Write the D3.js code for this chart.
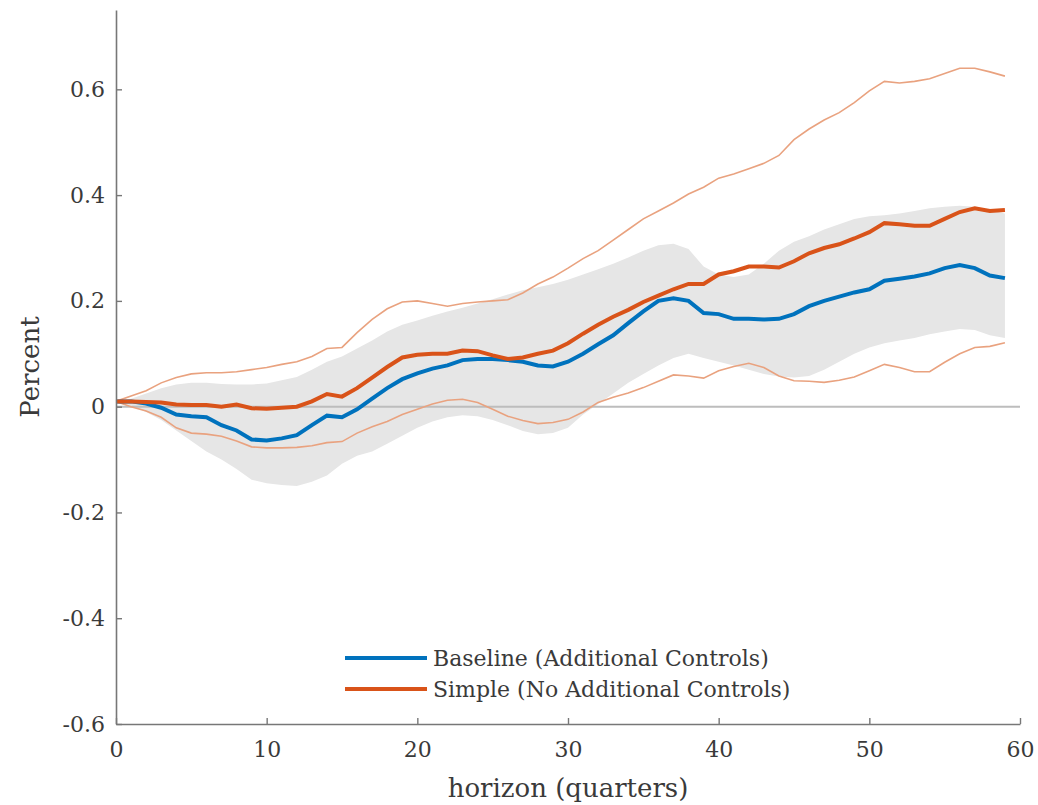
<!DOCTYPE html>
<html>
<head>
<meta charset="utf-8">
<script src="https://cdn.jsdelivr.net/npm/d3@7"></script>
<style>
  body { margin: 0; background: white; }
  svg { display: block; }
  text { font-family: "DejaVu Serif", serif; fill: #3a3a3a; }
</style>
</head>
<body>
<svg id="chart" width="1038" height="805"></svg>
<script>
// horizons 0..59 (quarters)
const horizon = d3.range(0, 60)

// baseline (additional controls) point estimate and its band
const baseline = [0.01, 0.01, 0.006, -0.002, -0.015, -0.018, -0.02, -0.035, -0.045, -0.062,
  -0.064, -0.06, -0.054, -0.035, -0.017, -0.02, -0.005, 0.015, 0.035, 0.052,
  0.063, 0.072, 0.078, 0.088, 0.09, 0.09, 0.088, 0.085, 0.078, 0.076,
  0.085, 0.1, 0.118, 0.135, 0.158, 0.18, 0.2, 0.205, 0.2, 0.177,
  0.175, 0.166, 0.166, 0.165, 0.166, 0.175, 0.19, 0.2, 0.208, 0.216,
  0.222, 0.238, 0.242, 0.246, 0.252, 0.262, 0.268, 0.262, 0.248, 0.243]
const baselineHi = [0.01, 0.015, 0.025, 0.035, 0.042, 0.045, 0.045, 0.043, 0.042, 0.042,
  0.044, 0.05, 0.056, 0.07, 0.085, 0.095, 0.11, 0.125, 0.142, 0.155,
  0.163, 0.172, 0.18, 0.187, 0.195, 0.203, 0.212, 0.22, 0.226, 0.232,
  0.24, 0.25, 0.26, 0.27, 0.282, 0.295, 0.305, 0.308, 0.298, 0.265,
  0.25, 0.245, 0.25, 0.27, 0.295, 0.312, 0.322, 0.335, 0.345, 0.355,
  0.36, 0.362, 0.365, 0.37, 0.375, 0.378, 0.38, 0.378, 0.372, 0.365]
const baselineLo = [0.01, 0.002, -0.01, -0.025, -0.045, -0.065, -0.085, -0.1, -0.118, -0.138,
  -0.145, -0.148, -0.15, -0.142, -0.13, -0.108, -0.093, -0.085, -0.07, -0.055,
  -0.04, -0.028, -0.02, -0.016, -0.018, -0.025, -0.035, -0.046, -0.052, -0.05,
  -0.04, -0.015, 0.005, 0.025, 0.045, 0.062, 0.078, 0.092, 0.1, 0.092,
  0.085, 0.078, 0.07, 0.062, 0.057, 0.055, 0.058, 0.07, 0.085, 0.1,
  0.112, 0.12, 0.125, 0.13, 0.137, 0.142, 0.147, 0.145, 0.135, 0.13]

// simple (no additional controls) point estimate and its bounds
const simple = [0.01, 0.01, 0.009, 0.008, 0.004, 0.003, 0.003, 0.0, 0.004, -0.003,
  -0.004, -0.002, 0.0, 0.01, 0.024, 0.019, 0.035, 0.055, 0.075, 0.093,
  0.098, 0.1, 0.1, 0.106, 0.105, 0.097, 0.09, 0.093, 0.1, 0.106,
  0.12, 0.138, 0.155, 0.17, 0.183, 0.198, 0.21, 0.222, 0.232, 0.232,
  0.25, 0.256, 0.265, 0.265, 0.263, 0.275, 0.29, 0.3, 0.307, 0.318,
  0.33, 0.347, 0.345, 0.342, 0.342, 0.355, 0.368, 0.375, 0.37, 0.372]
const simpleHi = [0.01, 0.02, 0.03, 0.045, 0.055, 0.062, 0.064, 0.064, 0.066, 0.07,
  0.074, 0.08, 0.085, 0.095, 0.11, 0.112, 0.14, 0.165, 0.185, 0.198,
  0.2, 0.195, 0.19, 0.195, 0.198, 0.2, 0.202, 0.215, 0.232, 0.245,
  0.262, 0.28, 0.295, 0.315, 0.335, 0.355, 0.37, 0.385, 0.402, 0.415,
  0.432, 0.44, 0.45, 0.46, 0.475, 0.505, 0.525, 0.542, 0.556, 0.575,
  0.597, 0.615, 0.612, 0.615, 0.62, 0.63, 0.64, 0.64, 0.633, 0.625]
const simpleLo = [0.01, 0.0, -0.008, -0.02, -0.04, -0.05, -0.052, -0.056, -0.065, -0.076,
  -0.078, -0.078, -0.077, -0.074, -0.068, -0.066, -0.05, -0.038, -0.028, -0.015,
  -0.005, 0.005, 0.012, 0.014, 0.008, -0.005, -0.018, -0.026, -0.032, -0.03,
  -0.024, -0.01, 0.008, 0.018, 0.026, 0.036, 0.048, 0.06, 0.058, 0.054,
  0.068, 0.076, 0.082, 0.074, 0.058, 0.049, 0.048, 0.046, 0.05, 0.056,
  0.068, 0.08, 0.074, 0.066, 0.066, 0.084, 0.1, 0.112, 0.114, 0.121]

const xTicks = [0, 10, 20, 30, 40, 50, 60]
const yTicks = [-0.6, -0.4, -0.2, 0, 0.2, 0.4, 0.6]
const yTickLabels = ['-0.6', '-0.4', '-0.2', '0', '0.2', '0.4', '0.6']
const legendLabels = ['Baseline (Additional Controls)', 'Simple (No Additional Controls)']

const blue = '#0072bd'
const orange = '#d95319'

const margin = { top: 10, right: 18, bottom: 81, left: 116 }
const width = 1038 - margin.left - margin.right
const height = 805 - margin.top - margin.bottom

const svg = d3.select('#chart')
const g = svg.append('g').attr('transform', `translate(${margin.left},${margin.top})`)

const x = d3.scaleLinear().domain([0, 60]).range([0, width])
const y = d3.scaleLinear().domain([-0.6, 0.75]).range([height, 0])

// shaded band
const area = d3.area()
  .x(i => x(horizon[i]))
  .y0(i => y(baselineLo[i]))
  .y1(i => y(baselineHi[i]))
g.append('path')
  .attr('d', area(d3.range(horizon.length)))
  .attr('fill', '#e6e6e6')

// zero line
g.append('line')
  .attr('x1', x(0)).attr('x2', x(60))
  .attr('y1', y(0)).attr('y2', y(0))
  .attr('stroke', '#bdbdbd')
  .attr('stroke-width', 2)

const line = vals => d3.line()
  .x((_, i) => x(horizon[i]))
  .y(d => y(d))(vals)

// thin bounds for simple spec
;[simpleHi, simpleLo].forEach(vals => {
  g.append('path')
    .attr('d', line(vals))
    .attr('fill', 'none')
    .attr('stroke', '#e9a27f')
    .attr('stroke-width', 1.6)
})

g.append('path')
  .attr('d', line(baseline))
  .attr('fill', 'none')
  .attr('stroke', blue)
  .attr('stroke-width', 4)

g.append('path')
  .attr('d', line(simple))
  .attr('fill', 'none')
  .attr('stroke', orange)
  .attr('stroke-width', 4)

// axes, ticks pointing inward
const xAxis = d3.axisBottom(x).tickValues(xTicks).tickSizeInner(-6).tickSizeOuter(0).tickPadding(17)
const yAxis = d3.axisLeft(y).tickValues(yTicks).tickSizeInner(-6).tickSizeOuter(0).tickPadding(11)
  .tickFormat((d, i) => yTickLabels[i])

const gx = g.append('g').attr('transform', `translate(0,${height})`).call(xAxis)
const gy = g.append('g').call(yAxis)
;[gx, gy].forEach(a => {
  a.selectAll('path.domain').attr('stroke', '#777').attr('stroke-width', 1.6)
  a.selectAll('.tick line').attr('stroke', '#777').attr('stroke-width', 1.4)
  a.selectAll('.tick text').style('font-family', '"DejaVu Serif", serif').style('font-size', '22px').attr('fill', '#3a3a3a')
})
gx.selectAll('.tick text').attr('dy', '0.71em')

// labels
svg.append('text')
  .attr('x', margin.left + width / 2)
  .attr('y', 797)
  .attr('text-anchor', 'middle')
  .style('font-size', '26px')
  .text('horizon (quarters)')

svg.append('text')
  .attr('transform', 'translate(39,367) rotate(-90)')
  .attr('text-anchor', 'middle')
  .style('font-size', '26px')
  .text('Percent')

// legend
const legend = g.append('g').attr('transform', `translate(${345 - margin.left},${658 - margin.top})`)
legendLabels.forEach((lab, i) => {
  const row = legend.append('g').attr('transform', `translate(0,${i * 31})`)
  row.append('line').attr('x1', 0).attr('x2', 82).attr('y1', 0).attr('y2', 0)
    .attr('stroke', i === 0 ? blue : orange).attr('stroke-width', 4)
  row.append('text').attr('x', 88).attr('y', 0).attr('dy', '0.35em')
    .style('font-size', '22px').text(lab)
})
</script>
</body>
</html>
